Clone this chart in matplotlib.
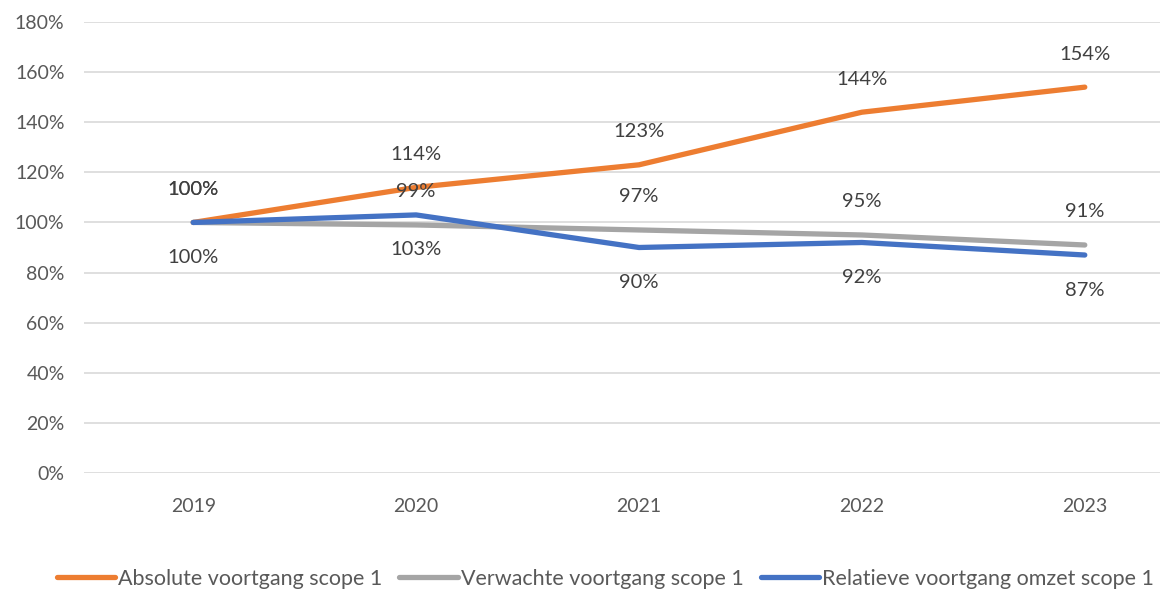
import matplotlib.pyplot as plt
from matplotlib.ticker import PercentFormatter

plt.rcParams['font.family'] = ['Lato', 'DejaVu Sans']

years = ['2019', '2020', '2021', '2022', '2023']
absolute = [100, 114, 123, 144, 154]
verwacht = [100, 99, 97, 95, 91]
relatief = [100, 103, 90, 92, 87]

names = ['Absolute voortgang scope 1', 'Verwachte voortgang scope 1',
         'Relatieve voortgang omzet scope 1']
colors = ['#ED7D31', '#A5A5A5', '#4472C4']
txt = '#595959'

fig = plt.figure(figsize=(11.6, 5.89), dpi=100)
# plot area runs past the right edge, like the cropped original
ax = fig.add_axes([84 / 1160, 1 - 473 / 589, 1110 / 1160, 451 / 589])

x = range(len(years))
series = [absolute, verwacht, relatief]
offsets = [33, 33, -35]
for vals, name, c, off in zip(series, names, colors, offsets):
    ax.plot(x, vals, color=c, lw=3.8, label=name, solid_capstyle='round')
for vals, off in zip(series, offsets):
    for i, v in enumerate(vals):
        ax.annotate(f'{v}%', (i, v), xytext=(0, off), textcoords='offset pixels',
                    ha='center', va='center', fontsize=14.5, color='#404040')

ax.set_xlim(-0.49, 4.49)
ax.set_ylim(0, 180)
ax.set_yticks(range(0, 181, 20))
ax.yaxis.set_major_formatter(PercentFormatter(decimals=0))
ax.set_xticks(list(x))
ax.set_xticklabels(years)
ax.tick_params(length=0, labelsize=14, colors=txt)
ax.tick_params(axis='x', pad=18)
ax.tick_params(axis='y', pad=14)
ax.grid(axis='y', color='#D9D9D9', lw=1.2)
ax.set_axisbelow(True)
for s in ax.spines.values():
    s.set_visible(False)

leg = fig.legend(loc='center left', bbox_to_anchor=(48 / 1160, 1 - 579 / 589),
                 ncol=3, frameon=False, fontsize=15.5, handlelength=2.7,
                 handletextpad=0.15, columnspacing=0.8, borderaxespad=0)
for t in leg.get_texts():
    t.set_color(txt)

fig.savefig('out.png', dpi=100)
